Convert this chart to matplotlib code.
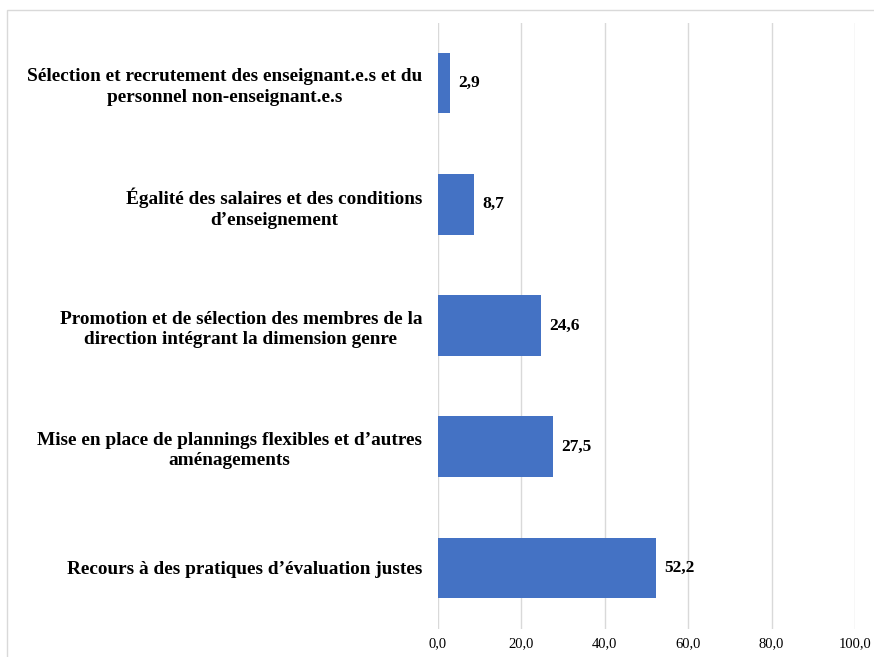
import matplotlib
matplotlib.use("Agg")
import matplotlib.pyplot as plt
from matplotlib.patches import Rectangle

categories = [
    "Recours à des pratiques d’évaluation justes",
    "Mise en place de plannings flexibles et d’autres\naménagements",
    "Promotion et de sélection des membres de la\ndirection intégrant la dimension genre",
    "Égalité des salaires et des conditions\nd’enseignement",
    "Sélection et recrutement des enseignant.e.s et du\npersonnel non-enseignant.e.s",
]
values = [52.2, 27.5, 24.6, 8.7, 2.9]
xticks = [0, 20, 40, 60, 80, 100]

plt.rcParams['font.family'] = ['Liberation Serif', 'DejaVu Serif']

fig = plt.figure(figsize=(8.74, 6.57), dpi=100)
ax = fig.add_axes([438/874, 1-628.5/657, (855-438)/874, (628.5-22.5)/657])

bar_color = "#4472C4"
y = list(range(len(categories)))
ax.barh(y, values, height=0.5, color=bar_color, zorder=3)
ax.set_ylim(-0.5, len(categories)-0.5)
ax.set_xlim(0, 100)
ax.set_xticks(xticks)
ax.set_xticklabels([f"{v:.1f}".replace(".", ",") for v in xticks], fontsize=10.5)
ax.set_yticks(y)
ax.set_yticklabels(categories, fontsize=13.9, fontweight='bold',
                   multialignment='center', linespacing=1.27)
ax.tick_params(axis='both', length=0)
ax.tick_params(axis='y', pad=11.5)
ax.tick_params(axis='x', pad=6)
for s in ax.spines.values():
    s.set_visible(False)
ax.grid(axis='x', color='#d9d9d9', linewidth=1, zorder=0)
ax.set_axisbelow(True)

for yi, v in zip(y, values):
    ax.text(v + 2.0, yi, f"{v:.1f}".replace(".", ","), va='center', ha='left',
            fontsize=12.5, fontweight='bold')

fig.patches.append(Rectangle((7/874, -0.05), 1.1, 1+0.05-10/657, transform=fig.transFigure,
                             fill=False, edgecolor='#d9d9d9', linewidth=1))

fig.savefig("out.png", dpi=100)
